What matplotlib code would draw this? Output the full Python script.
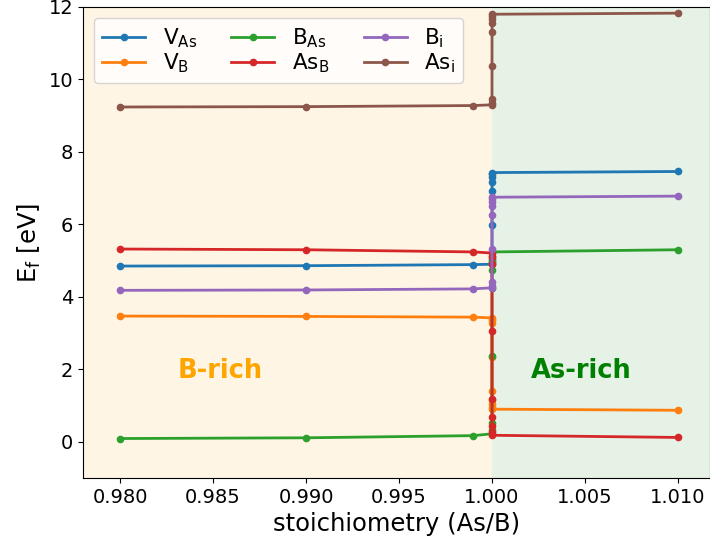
import numpy as np
import matplotlib
matplotlib.use('Agg')
import matplotlib.pyplot as plt

# stoichiometry values (many points squeezed around 1.0)
stoich = [0.98, 0.99, 0.999,
          0.99998, 0.999995, 0.999999, 1.0, 1.000001, 1.000003, 1.000005, 1.00001, 1.00002,
          1.01]

# formation energies
v_as = [4.85, 4.86, 4.89, 4.90, 4.95, 5.05, 5.99, 6.92, 7.18, 7.30, 7.38, 7.43, 7.46]
v_b = [3.47, 3.46, 3.44, 3.42, 3.37, 3.27, 2.34, 1.40, 1.15, 1.03, 0.95, 0.90, 0.87]
b_as = [0.09, 0.11, 0.17, 0.22, 0.32, 0.52, 2.38, 4.24, 4.74, 4.99, 5.14, 5.24, 5.30]
as_b = [5.32, 5.30, 5.24, 5.21, 5.11, 4.91, 3.05, 1.19, 0.69, 0.43, 0.28, 0.18, 0.12]
b_i = [4.18, 4.19, 4.22, 4.25, 4.30, 4.40, 5.33, 6.25, 6.50, 6.63, 6.70, 6.75, 6.78]
as_i = [9.24, 9.25, 9.28, 9.30, 9.35, 9.45, 10.37, 11.30, 11.55, 11.68, 11.75, 11.80, 11.83]

series = [(v_as, r'$\mathregular{V_{As}}$'),
          (v_b, r'$\mathregular{V_{B}}$'),
          (b_as, r'$\mathregular{B_{As}}$'),
          (as_b, r'$\mathregular{As_{B}}$'),
          (b_i, r'$\mathregular{B_{i}}$'),
          (as_i, r'$\mathregular{As_{i}}$')]

fig = plt.figure(figsize=(7.1, 5.46), dpi=100)
ax = fig.add_axes([0.1169, 0.1245, 0.8831, 0.8627])

xmin, xmax = 0.97801, 1.01172
ax.axvspan(xmin, 1.0, color='orange', alpha=0.1, lw=0)
ax.axvspan(1.0, xmax, color='green', alpha=0.1, lw=0)

for vals, lab in series:
    ax.plot(stoich, vals, '-o', lw=2, ms=4.5, label=lab)

ax.text(0.98538, 1.95, 'B-rich', color='orange', fontsize=18.5, fontweight='bold',
        ha='center', va='center')
ax.text(1.00478, 1.95, 'As-rich', color='green', fontsize=18.5, fontweight='bold',
        ha='center', va='center')

ax.set_xlim(xmin, xmax)
ax.set_ylim(-1, 12)
ax.set_xticks([0.98, 0.985, 0.99, 0.995, 1.0, 1.005, 1.01])
ax.set_xticklabels(['0.980', '0.985', '0.990', '0.995', '1.000', '1.005', '1.010'])
ax.tick_params(labelsize=14)
ax.set_xlabel('stoichiometry (As/B)', fontsize=17.5)
ax.set_ylabel(r'$\mathregular{E_f}$ [eV]', fontsize=17.5)
ax.legend(ncol=3, loc='upper left', fontsize=15.5, handletextpad=0.8,
          columnspacing=1.6, labelspacing=0.05)

fig.savefig('out.png', dpi=100)
